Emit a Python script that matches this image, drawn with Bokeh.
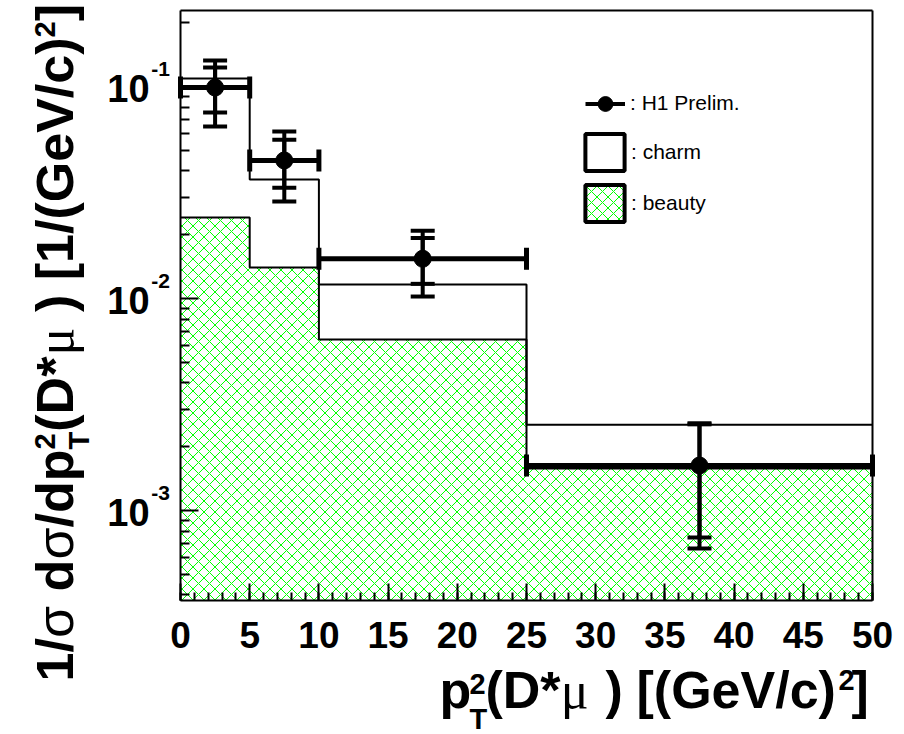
import math
from bokeh.plotting import figure
from bokeh.models import (FixedTicker, Whisker, TeeHead, ColumnDataSource, Label,
                          Legend, LegendItem, Range1d, CustomJSTickFormatter,
                          LinearAxis, LogAxis)
from bokeh.embed import file_html
from bokeh.resources import INLINE

# ---------------- data ----------------
bin_edges = [0, 5, 10, 25, 50]
bin_centers = [2.5, 7.5, 17.5, 37.5]
h1_values = [0.0989, 0.0448, 0.0154, 0.00163]
h1_stat_up = [0.1229, 0.0561, 0.0193, 0.00255]
h1_stat_down = [0.0754, 0.0333, 0.01173, 0.000746]
h1_tot_up = [0.1326, 0.0613, 0.0209, 0.00258]
h1_tot_down = [0.0648, 0.0287, 0.01022, 0.000662]
charm_values = [0.1091, 0.0364, 0.01164, 0.00254]
beauty_values = [0.0241, 0.0140, 0.00640, 0.00158]

x_tick_values = list(range(0, 51, 5))
x_minor_values = list(range(0, 51, 1))
y_decades = [1e-3, 1e-2, 1e-1]
y_tick_mantissa = ["10", "10", "10"]
y_tick_exponent = ["-3", "-2", "-1"]

legend_labels = [": H1 Prelim.", ": charm", ": beauty"]

X_MIN, X_MAX = 0, 50
Y_MIN, Y_MAX = 3.763e-4, 0.2284
y_minor_values = [m * 10.0 ** e for e in (-4, -3, -2, -1) for m in range(2, 10)
                  if Y_MIN <= m * 10.0 ** e <= Y_MAX]

FONT = "Liberation Sans"
SERIF = "Liberation Serif"
GREEN = "#00ff00"
NAN = float("nan")

# ---------------- page geometry ----------------
PAGE_W, PAGE_H = 904, 734
FL, FR, FT, FB = 180, 872, 10, 600       # data box edges on the page
MID = 0.35                                # text-box centre above the baseline, in em

xpx = (X_MAX - X_MIN) / (FR - FL)
lmin, lmax = math.log10(Y_MIN), math.log10(Y_MAX)
dpx = (lmax - lmin) / (FB - FT)

p = figure(width=PAGE_W, height=PAGE_H,
           x_range=Range1d(X_MIN - FL * xpx, X_MAX + (PAGE_W - FR) * xpx),
           y_range=Range1d(10 ** (lmin - (PAGE_H - FB) * dpx), 10 ** (lmax + FT * dpx)),
           y_axis_type="log", x_axis_location=None, y_axis_location=None,
           output_backend="svg", toolbar_location=None,
           min_border_left=0, min_border_right=0, min_border_top=0, min_border_bottom=0)
p.xgrid.visible = False
p.ygrid.visible = False
p.outline_line_color = None
p.background_fill_color = "white"
p.border_fill_color = "white"


def sx(X):   # page x -> screen x (frame == canvas)
    return X


def sy(Y):   # page y -> screen y measured from the bottom
    return PAGE_H - Y


# ---------------- histograms ----------------
src_b = ColumnDataSource(dict(left=bin_edges[:-1], right=bin_edges[1:], top=beauty_values,
                              bottom=[Y_MIN] * len(beauty_values)))
p.quad(left="left", right="right", top="top", bottom="bottom", source=src_b,
       fill_color="white", fill_alpha=0.0, hatch_pattern="diagonal_cross",
       hatch_color=GREEN, hatch_scale=11, hatch_weight=1, line_color=None)

p.step(bin_edges, charm_values + [charm_values[-1]], mode="after", line_color="black", line_width=2)
p.step(bin_edges, beauty_values + [beauty_values[-1]], mode="after", line_color="black", line_width=2)

# ---------------- data points ----------------
src_d = ColumnDataSource(dict(x=bin_centers, y=h1_values, xl=bin_edges[:-1], xr=bin_edges[1:],
                              su=h1_stat_up, sd=h1_stat_down, tu=h1_tot_up, td=h1_tot_down))
for up, lo in (("tu", "td"), ("su", "sd")):
    p.add_layout(Whisker(source=src_d, base="x", upper=up, lower=lo, dimension="height",
                         line_width=4, line_color="black", level="annotation",
                         upper_head=TeeHead(size=24, line_width=4, line_color="black"),
                         lower_head=TeeHead(size=24, line_width=4, line_color="black")))
p.add_layout(Whisker(source=src_d, base="y", upper="xr", lower="xl", dimension="width",
                     line_width=5, line_color="black", level="annotation",
                     upper_head=TeeHead(size=22, line_width=5, line_color="black"),
                     lower_head=TeeHead(size=22, line_width=5, line_color="black")))
p.scatter("x", "y", source=src_d, size=17, color="black")

# ---------------- axes (fixed at the data box) ----------------
empty = CustomJSTickFormatter(code="return ''")

xa = LinearAxis(fixed_location=Y_MIN, bounds=(X_MIN, X_MAX),
                ticker=FixedTicker(ticks=x_tick_values, minor_ticks=x_minor_values))
xa.axis_line_width = 2
xa.major_tick_line_width = 2
xa.minor_tick_line_width = 2
xa.major_tick_in, xa.major_tick_out = 17, 0
xa.minor_tick_in, xa.minor_tick_out = 8, 0
xa.major_label_text_font = FONT
xa.major_label_text_font_style = "bold"
xa.major_label_text_font_size = "37px"
xa.major_label_text_color = "black"
xa.major_label_standoff = 21
p.add_layout(xa, "below")

ya = LogAxis(fixed_location=X_MIN, bounds=(Y_MIN, Y_MAX),
             ticker=FixedTicker(ticks=y_decades, minor_ticks=y_minor_values), formatter=empty)
ya.major_label_text_font_size = "0px"
ya.axis_line_width = 2
ya.major_tick_line_width = 2
ya.minor_tick_line_width = 2
ya.major_tick_in, ya.major_tick_out = 18, 0
ya.minor_tick_in, ya.minor_tick_out = 9, 0
p.add_layout(ya, "left")

top_ax = LinearAxis(fixed_location=Y_MAX, bounds=(X_MIN, X_MAX), ticker=FixedTicker(ticks=[]),
                    formatter=empty, major_label_text_font_size="0px", axis_line_width=2,
                    major_tick_in=0, major_tick_out=0, minor_tick_in=0, minor_tick_out=0)
p.add_layout(top_ax, "above")
right_ax = LogAxis(fixed_location=X_MAX, bounds=(Y_MIN, Y_MAX), ticker=FixedTicker(ticks=[]),
                   formatter=empty, major_label_text_font_size="0px", axis_line_width=2,
                   major_tick_in=0, major_tick_out=0, minor_tick_in=0, minor_tick_out=0)
p.add_layout(right_ax, "right")


def add_text(txt, x, y, size, bold, font=FONT, angle=0, y_units="screen", y_offset=0):
    p.add_layout(Label(x=x, y=y, x_units="screen", y_units=y_units, y_offset=y_offset,
                       text=txt, text_align="center", text_baseline="middle", angle=angle,
                       angle_units="deg", text_font=font,
                       text_font_style="bold" if bold else "normal",
                       text_font_size=f"{size}px", text_color="black"))


# y tick labels: "10" with exponent
for dec, man, ex in zip(y_decades, y_tick_mantissa, y_tick_exponent):
    add_text(man, sx(128), dec, 38, True, y_units="data", y_offset=-1.5)
    add_text(ex, sx(160), dec, 21, True, y_units="data", y_offset=18)

# ---------------- legend ----------------
r_line = p.line(x=[NAN], y=[NAN], line_color="black", line_width=4)
r_pt = p.scatter(x=[NAN], y=[NAN], size=17, color="black")
r_charm = p.quad(left=[NAN], right=[NAN], top=[NAN], bottom=[NAN], fill_color="white",
                 line_color="black", line_width=4)
r_beauty = p.quad(left=[NAN], right=[NAN], top=[NAN], bottom=[NAN], fill_color="white",
                  hatch_pattern="diagonal_cross", hatch_color=GREEN, hatch_scale=11,
                  hatch_weight=1, line_color="black", line_width=4)
leg1 = Legend(items=[LegendItem(label=legend_labels[0], renderers=[r_line, r_pt])],
              location=(sx(585), sy(121.5)), glyph_width=40, glyph_height=37, label_height=20,
              label_standoff=5, padding=0, margin=0, spacing=0,
              label_text_font=FONT, label_text_font_size="21px", label_text_color="black",
              border_line_color=None, background_fill_alpha=0)
leg2 = Legend(items=[LegendItem(label=legend_labels[1], renderers=[r_charm]),
                     LegendItem(label=legend_labels[2], renderers=[r_beauty])],
              location=(sx(580), sy(226)), glyph_width=49, glyph_height=46, label_height=20,
              label_standoff=2, padding=0, margin=0, spacing=5,
              label_text_font=FONT, label_text_font_size="21px", label_text_color="black",
              border_line_color=None, background_fill_alpha=0)
p.add_layout(leg1)
p.add_layout(leg2)

# ---------------- composed axis titles ----------------
W_BOLD = {'1': .556, '2': .556, '/': .278, ' ': .278, 'd': .611, 'p': .611, '(': .333,
          'D': .722, '*': .389, ')': .333, '[': .333, ']': .333, 'G': .778, 'e': .556,
          'V': .667, 'c': .556, 'T': .611}
W_REG = {'σ': .62, 'μ': .58}


def adv(text, size, bold):
    tab = W_BOLD if bold else W_REG
    return sum(tab.get(ch, 0.556) for ch in text) * size


# x title pieces: (text, page x of start, baseline page y, size, bold, font)
x_title_pieces = [
    ("p", 439, 708, 52, True, FONT),
    ("2", 469, 694, 29, True, FONT),
    ("T", 469, 729, 29, True, FONT),
    ("(D*", 485, 708, 52, True, FONT),
    ("μ", 559, 708, 52, False, SERIF),
    (")", 605, 708, 52, True, FONT),
    ("[(GeV/c)", 636, 708, 52, True, FONT),
    ("2", 838, 690, 29, True, FONT),
    ("]", 851, 708, 52, True, FONT),
]
for txt, X, Y, size, bold, font in x_title_pieces:
    add_text(txt, sx(X + adv(txt, size, bold) / 2), sy(Y - MID * size), size, bold, font)

# y title: rotated, baseline page x 73, starts page y 681, reads upward.
# A slot of None is a word space.
M, S, UP, DN = 52, 29, 18, 16
SP = None
y_slots = [
    [("1/", M, True, 0, FONT)], [("σ", M, False, 0, FONT)], SP, [("d", M, True, 0, FONT)],
    [("σ", M, False, 0, FONT)], [("/dp", M, True, 0, FONT)],
    [("2", S, True, UP, FONT), ("T", S, True, -DN, FONT)],
    [("(D*", M, True, 0, FONT)], [("μ", M, False, 0, SERIF)], SP, [(")", M, True, 0, FONT)],
    SP, [("[1/(GeV/c)", M, True, 0, FONT)], [("2", S, True, UP, FONT)], [("]", M, True, 0, FONT)],
]
pos = 681.0
for slot in y_slots:
    if slot is None:
        pos -= adv(" ", M, True)
        continue
    a = 0
    for txt, size, bold, shift, font in slot:
        w = adv(txt, size, bold)
        add_text(txt, sx(73 - shift - MID * size), sy(pos - w / 2), size, bold, font, angle=90)
        a = max(a, w)
    pos -= a

open("out.html", "w").write(file_html(p, INLINE))
